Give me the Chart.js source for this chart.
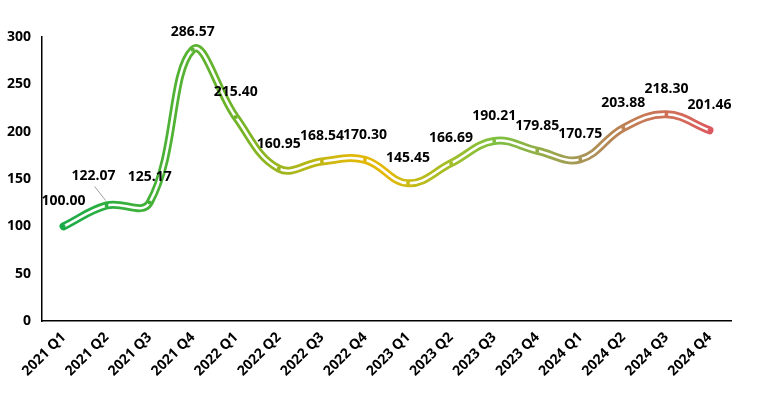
<!DOCTYPE html>
<html>
<head>
<meta charset="utf-8">
<script src="https://cdn.jsdelivr.net/npm/chart.js@4"></script>
<style>
  body { margin: 0; background: #fff; }
  #wrap { width: 773px; height: 393px; }
</style>
</head>
<body>
<div id="wrap"><canvas id="chart1"></canvas></div>
<script>
const quarters = ["2021 Q1", "2021 Q2", "2021 Q3", "2021 Q4", "2022 Q1", "2022 Q2", "2022 Q3", "2022 Q4",
  "2023 Q1", "2023 Q2", "2023 Q3", "2023 Q4", "2024 Q1", "2024 Q2", "2024 Q3", "2024 Q4"];
const values = [100.00, 122.07, 125.17, 286.57, 215.40, 160.95, 168.54, 170.30,
  145.45, 166.69, 190.21, 179.85, 170.75, 203.88, 218.30, 201.46];
const yTicks = [0, 50, 100, 150, 200, 250, 300];

const font = "'Open Sans', 'Liberation Sans', sans-serif";

// colour along the line, left to right
function lineGradient(context) {
  const area = context.chart.chartArea;
  if (!area) return "#4caf50";
  const g = context.chart.ctx.createLinearGradient(area.left, 0, area.right, 0);
  g.addColorStop(0.0, "#10a84c");
  g.addColorStop(0.1, "#30b040");
  g.addColorStop(0.28, "#70b42a");
  g.addColorStop(0.36, "#a6b61c");
  g.addColorStop(0.45, "#e0b80a");
  g.addColorStop(0.5, "#e4b808");
  g.addColorStop(0.56, "#b4bc1e");
  g.addColorStop(0.66, "#7cc040");
  g.addColorStop(0.72, "#92ae48");
  g.addColorStop(0.79, "#aa9458");
  g.addColorStop(0.85, "#c07e52");
  g.addColorStop(0.93, "#d46a5a");
  g.addColorStop(1.0, "#e04c62");
  return g;
}

const valueLabels = {
  id: "valueLabels",
  afterDatasetsDraw(chart) {
    const ctx = chart.ctx;
    const meta = chart.getDatasetMeta(1);
    ctx.save();
    ctx.font = "bold 14px " + font;
    ctx.fillStyle = "#000";
    ctx.textAlign = "center";
    ctx.textBaseline = "middle";
    meta.data.forEach((pt, i) => {
      let x = pt.x, y = pt.y - 25;
      if (i === 1) {
        x = pt.x - 13; y = pt.y - 29;
        ctx.strokeStyle = "#a0a0a0";
        ctx.lineWidth = 1;
        ctx.beginPath();
        ctx.moveTo(pt.x - 12, pt.y - 19);
        ctx.lineTo(pt.x - 1, pt.y - 5);
        ctx.stroke();
      }
      if (i === 3) y = pt.y - 18;
      ctx.fillText(values[i].toFixed(2), x, y);
    });
    ctx.restore();
  }
};

new Chart(document.getElementById("chart1").getContext("2d"), {
  type: "line",
  data: {
    labels: quarters,
    datasets: [
      {
        data: values,
        borderColor: "#ffffff",
        borderWidth: 2.5,
        tension: 0.4,
        pointStyle: "rect",
        pointRadius: 2.5,
        pointBackgroundColor: lineGradient,
        pointBorderWidth: 0,
        borderCapStyle: "round",
        order: 0,
      },
      {
        data: values,
        borderColor: lineGradient,
        borderWidth: 8,
        tension: 0.4,
        pointRadius: 0,
        borderCapStyle: "round",
        order: 1,
      },
    ],
  },
  options: {
    responsive: true,
    maintainAspectRatio: false,
    animation: false,
    layout: { padding: { top: 37, right: 42, left: 0, bottom: 0 } },
    plugins: { legend: { display: false }, tooltip: { enabled: false } },
    scales: {
      x: {
        offset: true,
        grid: { display: false, drawTicks: false },
        border: { display: true, color: "#000", width: 1.5 },
        ticks: {
          minRotation: 45,
          maxRotation: 45,
          padding: 8,
          color: "#000",
          font: { family: font, size: 14, weight: "bold" },
        },
        afterFit(scale) { scale.height = 72; },
      },
      y: {
        min: 0,
        max: 300,
        afterBuildTicks(scale) { scale.ticks = yTicks.map(v => ({ value: v })); },
        grid: { display: false, drawTicks: false },
        border: { display: true, color: "#000", width: 1.5 },
        ticks: {
          padding: 11,
          color: "#000",
          font: { family: font, size: 14, weight: "bold" },
        },
        afterFit(scale) { scale.width = 42; },
      },
    },
  },
  plugins: [valueLabels],
});
</script>
</body>
</html>
